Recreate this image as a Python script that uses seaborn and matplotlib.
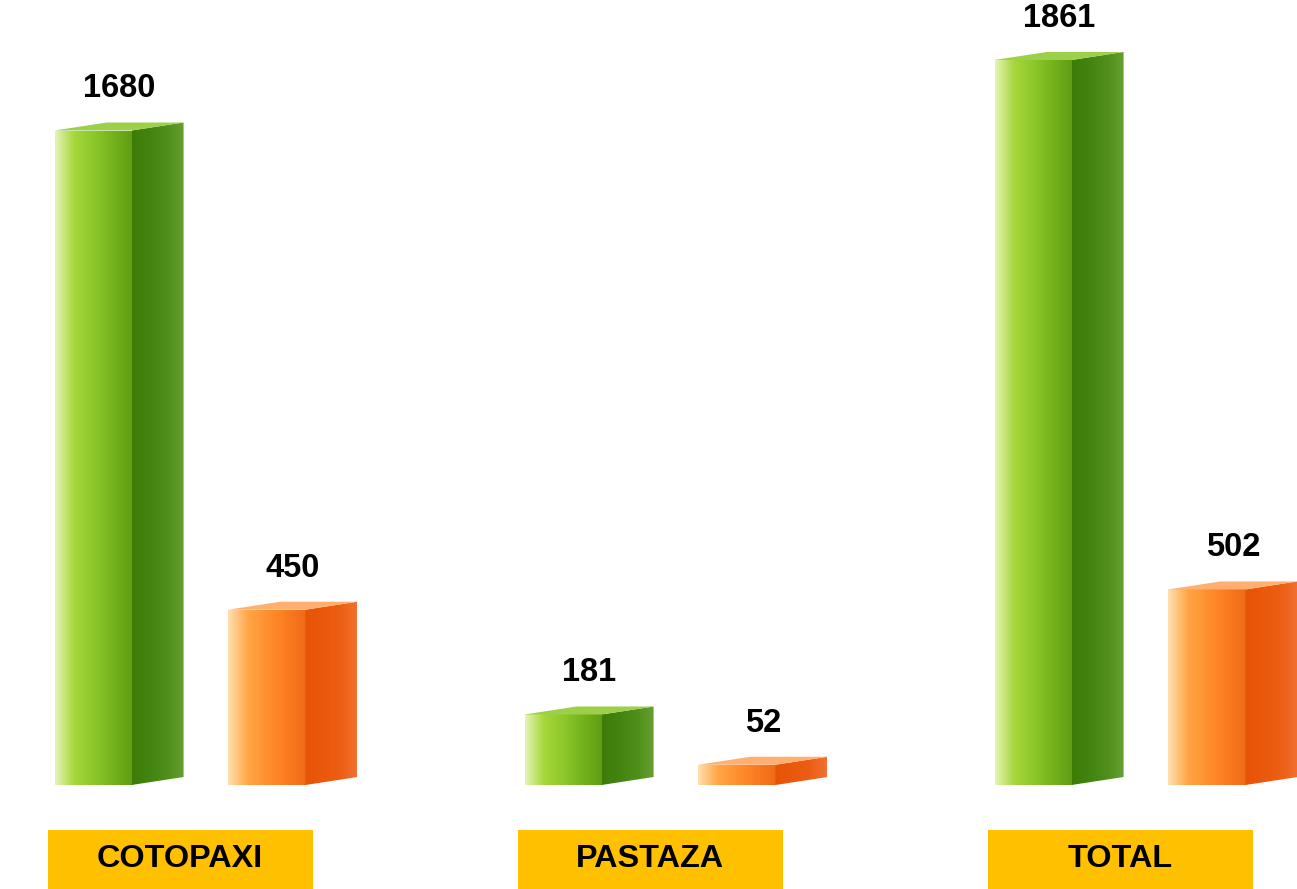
import numpy as np
import pandas as pd
import matplotlib
matplotlib.use("Agg")
import matplotlib.pyplot as plt
import seaborn as sns
from matplotlib.colors import LinearSegmentedColormap
from matplotlib.patches import Polygon, Rectangle

# ── datos ───────────────────────────────────────────────
categorias = ["COTOPAXI", "PASTAZA", "TOTAL"]
serie_verde = [1680, 181, 1861]
serie_naranja = [450, 52, 502]
series = ["verde", "naranja"]

df = pd.DataFrame({
    "categoria": categorias * 2,
    "serie": [series[0]] * 3 + [series[1]] * 3,
    "valor": serie_verde + serie_naranja,
})

# colores: frente, lado, tapa
FRENTE = {
    "verde": ["#e4f5b8", "#a6d63a", "#8cc82a", "#74b21c", "#5e9c14"],
    "naranja": ["#ffe0b0", "#ffa748", "#ff902e", "#fb7c20", "#f06a16"],
}
LADO = {
    "verde": ["#3c7c06", "#438410", "#4f8e1a", "#64a030"],
    "naranja": ["#e85406", "#ea580c", "#ec5e14", "#f27030"],
}
TAPA = {"verde": "#9ccf4a", "naranja": "#ffb070"}
CAJA = "#FFC000"

sns.set_theme(style="white")
plt.rcParams["font.family"] = ["Liberation Sans", "DejaVu Sans"]

fig = plt.figure(figsize=(12.97, 8.89), dpi=100)
ax = fig.add_axes([0, 104 / 889, 1, 785 / 889])

sns.barplot(data=df, x="categoria", y="valor", hue="serie",
            order=categorias, hue_order=series,
            palette=["#82c021", "#ff8a2a"], width=0.74, gap=0.557,
            legend=False, ax=ax)

PX = 470  # píxeles por categoría
XLIM = (-180 / PX, (1297 - 180) / PX)
YLIM = (0, 2015)
ax.set_xlim(*XLIM)
ax.set_ylim(*YLIM)
ax.set_axis_off()

# profundidad en unidades de datos
dx = 52 / PX
dy = 8 / 0.39

for cont, nombre in zip(ax.containers, series):
    cmap_f = LinearSegmentedColormap.from_list("f", FRENTE[nombre])
    cmap_l = LinearSegmentedColormap.from_list("l", LADO[nombre])
    for bar in cont:
        x, y0 = bar.get_x(), bar.get_y()
        w, h = bar.get_width(), bar.get_height()
        top = y0 + h
        bar.set_facecolor("none")
        bar.set_linewidth(0)

        grad = np.linspace(0, 1, 256).reshape(1, -1)

        # frente con degradado
        im = ax.imshow(grad, cmap=cmap_f, aspect="auto",
                       extent=(x, x + w, y0, top), zorder=2,
                       interpolation="bicubic")
        im.set_clip_path(bar)

        # lado
        lado = Polygon([(x + w, y0), (x + w + dx, y0 + dy),
                        (x + w + dx, top + dy), (x + w, top)],
                       closed=True, facecolor="none", edgecolor="none")
        ax.add_patch(lado)
        im2 = ax.imshow(grad, cmap=cmap_l, aspect="auto",
                        extent=(x + w, x + w + dx, y0, top + dy), zorder=2,
                        interpolation="bicubic")
        im2.set_clip_path(lado)

        # tapa
        ax.add_patch(Polygon([(x, top), (x + dx, top + dy),
                              (x + w + dx, top + dy), (x + w, top)],
                             closed=True, facecolor=TAPA[nombre],
                             edgecolor="none", zorder=3))

        ax.annotate(f"{h:.0f}", (x + (w + dx) / 2, top + dy),
                    xytext=(0, 13), textcoords="offset points",
                    ha="center", va="bottom", fontsize=23.5,
                    fontweight="bold", color="black")

ax.set_xlim(*XLIM)
ax.set_ylim(*YLIM)

# etiquetas de categoría en cajas
trans = ax.get_xaxis_transform()
bw = 265 / PX
for i, cat in enumerate(categorias):
    ax.add_patch(Rectangle((i - bw / 2, -0.1325), bw, 0.0755,
                           transform=trans, facecolor=CAJA,
                           edgecolor="none", clip_on=False, zorder=1))
    ax.text(i, -0.094, cat, transform=trans, ha="center", va="center",
            fontsize=23.3, fontweight="bold", color="black", clip_on=False)

plt.savefig("out.png", dpi=100, facecolor="white")
